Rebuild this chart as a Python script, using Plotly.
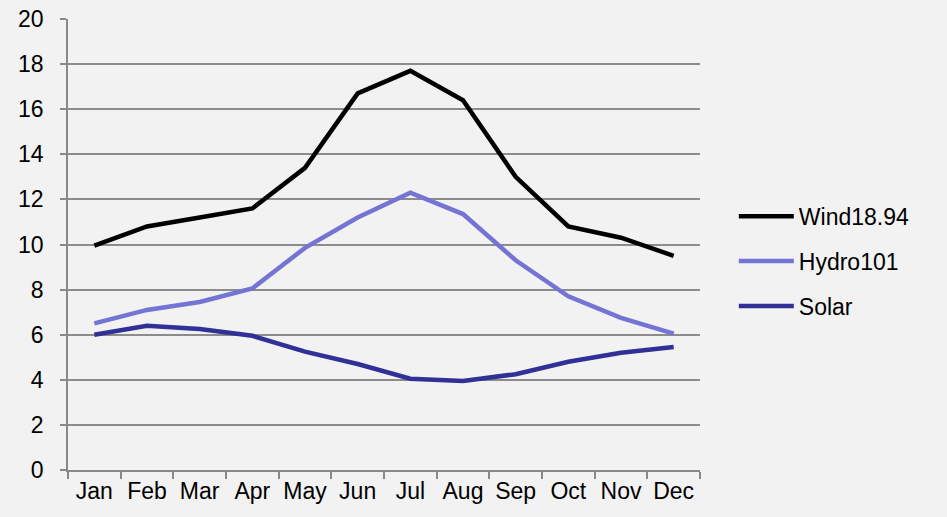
import plotly.graph_objects as go

months = ["Jan", "Feb", "Mar", "Apr", "May", "Jun", "Jul", "Aug", "Sep", "Oct", "Nov", "Dec"]
wind = [9.95, 10.8, 11.2, 11.6, 13.4, 16.7, 17.7, 16.4, 13.0, 10.8, 10.3, 9.5]
hydro = [6.5, 7.1, 7.45, 8.05, 9.85, 11.2, 12.3, 11.35, 9.3, 7.7, 6.75, 6.05]
solar = [6.0, 6.4, 6.25, 5.95, 5.25, 4.7, 4.05, 3.95, 4.25, 4.8, 5.2, 5.45]
y_ticks = [0, 2, 4, 6, 8, 10, 12, 14, 16, 18, 20]

series = [("Wind18.94", wind, "#000000"), ("Hydro101", hydro, "#7474d4"), ("Solar", solar, "#303096")]

fig = go.Figure()
for name, vals, col in series:
    fig.add_trace(go.Scatter(x=months, y=vals, mode="lines", name=name,
                             legendgroup=name,
                             line=dict(color=col, width=4.5)))

font = dict(family="Liberation Sans, Arial, sans-serif", size=23, color="#000000")
fig.update_layout(
    width=947, height=517,
    margin=dict(l=68, r=247, t=19, b=47, autoexpand=False),
    paper_bgcolor="#f2f2f2", plot_bgcolor="#f2f2f2",
    font=font,
    showlegend=True,
    legend=dict(x=1.0535, y=0.463, xanchor="left", yanchor="middle",
                font=font, tracegroupgap=12, itemwidth=55,
                bgcolor="rgba(0,0,0,0)"),
    xaxis=dict(type="category", range=[-0.5, 11.5], showgrid=False,
               showline=True, linecolor="#888888", linewidth=1.5,
               ticks="outside", tickson="boundaries", ticklen=7,
               tickcolor="#888888", tickwidth=1.5, tickangle=0,
               automargin=False, ticklabeloverflow="allow", tickfont=font),
    yaxis=dict(range=[0, 20], tickvals=y_ticks, showgrid=True,
               gridcolor="#8c8c8c", gridwidth=1.5, zeroline=False,
               showline=True, linecolor="#888888", linewidth=1.5,
               ticks="outside", ticklen=6, tickcolor="#888888", tickwidth=1.5,
               ticklabelstandoff=12, automargin=False,
               ticklabeloverflow="allow", tickfont=font),
)
fig.write_html("out.html", config={"displayModeBar": False},
               post_script="document.body.style.margin='0';")
